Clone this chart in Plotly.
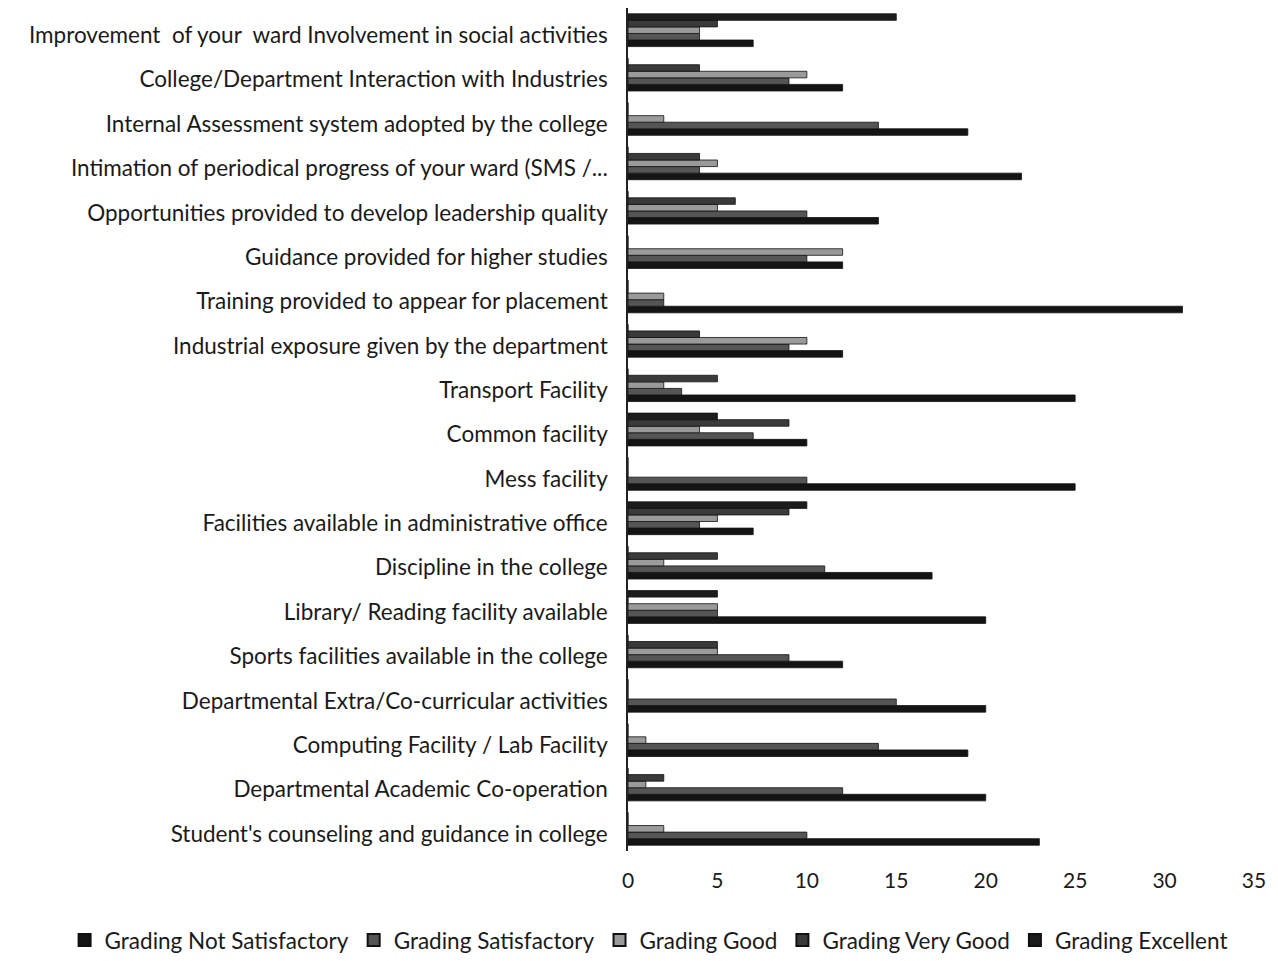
import plotly.graph_objects as go

categories = [
    "Student's counseling and guidance in college",
    "Departmental Academic Co-operation",
    "Computing Facility / Lab Facility",
    "Departmental Extra/Co-curricular activities",
    "Sports facilities available in the college",
    "Library/ Reading facility available",
    "Discipline in the college",
    "Facilities available in administrative office",
    "Mess facility",
    "Common facility",
    "Transport Facility",
    "Industrial exposure given by the department",
    "Training provided to appear for placement",
    "Guidance provided for higher studies",
    "Opportunities provided to develop leadership quality",
    "Intimation of periodical progress of your ward (SMS /...",
    "Internal Assessment system adopted by the college",
    "College/Department Interaction with Industries",
    "Improvement  of your  ward Involvement in social activities",
]

not_satisfactory = [23, 20, 19, 20, 12, 20, 17, 7, 25, 10, 25, 12, 31, 12, 14, 22, 19, 12, 7]
satisfactory     = [10, 12, 14, 15, 9, 5, 11, 4, 10, 7, 3, 9, 2, 10, 10, 4, 14, 9, 4]
good             = [2, 1, 1, 0, 5, 5, 2, 5, 0, 4, 2, 10, 2, 12, 5, 5, 2, 10, 4]
very_good        = [0, 2, 0, 0, 5, 0, 5, 9, 0, 9, 5, 4, 0, 0, 6, 4, 0, 4, 5]
excellent        = [0, 0, 0, 0, 0, 5, 0, 10, 0, 5, 0, 0, 0, 0, 0, 0, 0, 0, 15]

series_names = [
    "Grading Not Satisfactory",
    "Grading Satisfactory",
    "Grading Good",
    "Grading Very Good",
    "Grading Excellent",
]
series_values = [not_satisfactory, satisfactory, good, very_good, excellent]
series_colors = ["#141414", "#555555", "#9a9a9a", "#3a3a3a", "#1c1c1c"]

x_ticks = [0, 5, 10, 15, 20, 25, 30, 35]

fig = go.Figure()
for name, vals, col in zip(series_names, series_values, series_colors):
    fig.add_trace(go.Bar(
        y=categories, x=vals, name=name, orientation="h",
        marker=dict(color=col, line=dict(color="#111111", width=0.8)),
    ))

fig.update_layout(
    width=1270, height=953,
    barmode="group", bargap=0.26, bargroupgap=0,
    paper_bgcolor="white", plot_bgcolor="white",
    margin=dict(l=620, r=24, t=0, b=110, autoexpand=False),
    font=dict(family="Lato, 'Open Sans', sans-serif", size=22, color="#1a1a1a"),
    showlegend=True,
    legend=dict(
        orientation="h", traceorder="normal",
        x=-0.9, xanchor="left", y=-0.106, yanchor="middle",
        bgcolor="rgba(0,0,0,0)",
        font=dict(size=22.5, color="#1a1a1a"),
        itemwidth=30, itemsizing="constant",
    ),
)
fig.update_xaxes(
    range=[0, 35], tickvals=x_ticks, ticktext=[str(t) for t in x_ticks],
    showgrid=False, zeroline=False, showline=False,
    ticks="outside", ticklen=11, tickcolor="white",
    tickfont=dict(size=21, color="#1a1a1a"),
)
fig.update_yaxes(
    type="category", categoryorder="array", categoryarray=categories,
    showgrid=False, showline=True, linecolor="#222222", linewidth=1.5,
    ticks="", tickfont=dict(size=22.5, color="#1a1a1a"),
    ticklabelstandoff=14, ticklabelshift=5,
)

fig.write_html("out.html")
